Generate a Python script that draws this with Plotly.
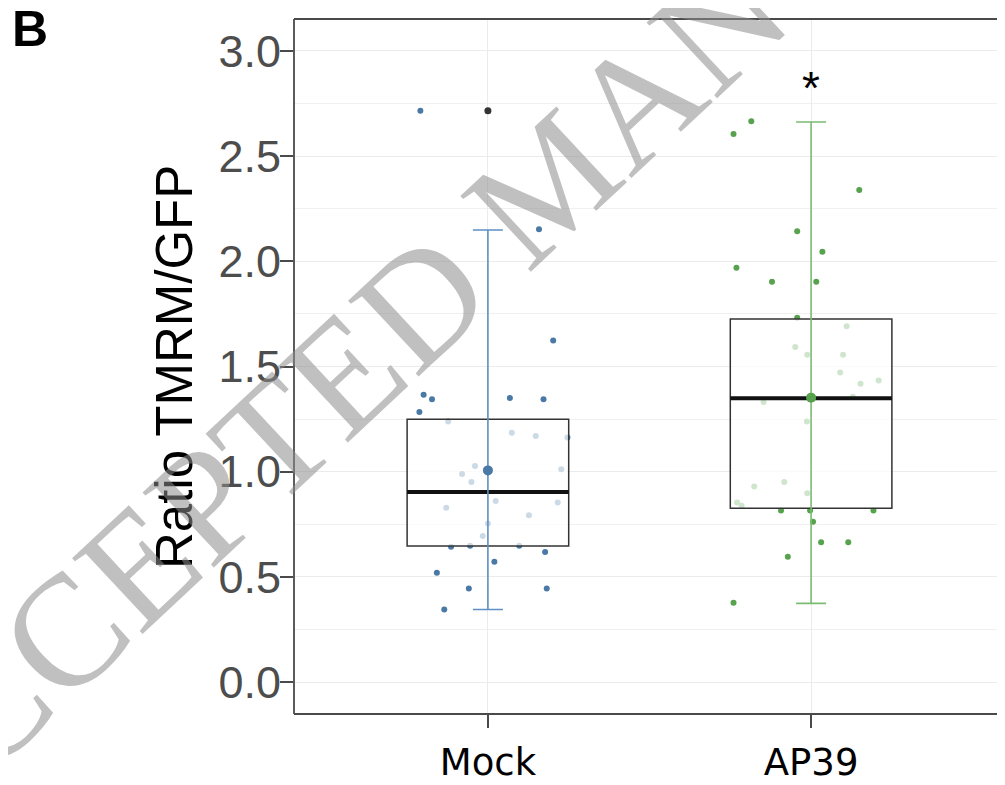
import plotly.graph_objects as go

# ---------------- data ----------------
categories = ["Mock", "AP39"]

mock_values = [2.716, 2.152, 1.624, 1.366, 1.344, 1.350, 1.344, 1.284, 1.239, 1.185,
               1.170, 1.162, 1.027, 0.989, 0.951, 1.011, 0.861, 0.853, 0.829, 0.793,
               0.754, 0.694, 0.643, 0.648, 0.648, 0.618, 0.572, 0.520, 0.445, 0.445,
               0.345]
mock_jitter = [-0.209, 0.158, 0.202, -0.199, -0.173, 0.068, 0.172, -0.212, -0.123, 0.074,
               0.148, 0.246, -0.040, -0.080, -0.051, 0.227, 0.024, 0.216, -0.129, 0.127,
               0.0, -0.016, -0.114, -0.055, 0.097, 0.177, 0.020, -0.158, -0.059, 0.182,
               -0.135]

ap39_values = [2.666, 2.605, 2.339, 2.143, 2.046, 1.970, 1.903, 1.903, 1.732, 1.691,
               1.593, 1.556, 1.556, 1.472, 1.418, 1.434, 1.331, 1.356, 1.238, 0.929,
               0.951, 0.897, 0.853, 0.838, 0.815, 0.816, 0.815, 0.762, 0.664, 0.664,
               0.596, 0.377]
ap39_jitter = [-0.185, -0.240, 0.149, -0.043, 0.035, -0.231, -0.121, 0.016, -0.043, 0.110,
               -0.049, -0.012, 0.099, 0.090, 0.153, 0.209, -0.147, 0.129, -0.013, -0.176,
               -0.083, -0.012, -0.229, -0.215, -0.093, -0.003, 0.193, 0.006, 0.031, 0.115,
               -0.072, -0.240]

q1 = [0.647, 0.826]
median = [0.903, 1.349]
q3 = [1.249, 1.726]
whisker_low = [0.345, 0.374]
whisker_high = [2.149, 2.662]
means = [1.006, 1.352]
outlier_values = [2.716]          # belongs to Mock
outlier_group = [0]

y_tick_values = [0.0, 0.5, 1.0, 1.5, 2.0, 2.5, 3.0]
y_tick_labels = ["0.0", "0.5", "1.0", "1.5", "2.0", "2.5", "3.0"]
y_minor_values = [0.25, 0.75, 1.25, 1.75, 2.25, 2.75]
y_title = "Ratio TMRM/GFP"
panel_label = "B"
sig_label = "*"
sig_group = 1
sig_y = 2.825
watermark = "ACCEPTED MANUSCRIPT"

# ---------------- styles ----------------
point_colors = ["#4a79a6", "#56a24d"]
whisker_colors = ["#5f90c3", "#7bbb72"]
box_width = 0.5
axis_color = "#4a4a4a"
grid_color = "#ebebeb"

# the page body has a default 8px margin; size the figure so that it fills
# the 1005x785 window exactly
BODY = 8
W, H = 1005 - BODY, 785 - BODY
ML, MR, MT, MB = 294 - BODY, 0, 19 - BODY, 71
PW, PH = W - ML - MR, H - MT - MB


def px_to_paper(px, py):
    """window pixel -> paper coordinates"""
    return (px - BODY - ML) / PW, (H - MB - (py - BODY)) / PH


groups = [(mock_values, mock_jitter), (ap39_values, ap39_jitter)]

fig = go.Figure()

# jittered points (bottom layer)
for i, (vals, jit) in enumerate(groups):
    fig.add_trace(go.Scatter(
        x=[i + j for j in jit], y=vals, mode="markers",
        marker=dict(size=6, color=point_colors[i]),
        hoverinfo="skip", zorder=0))

# boxes with semi-transparent white fill
fig.add_trace(go.Box(
    x=list(range(len(categories))), q1=q1, median=median, q3=q3,
    lowerfence=q1, upperfence=q3, width=box_width, whiskerwidth=0,
    line=dict(color="#333333", width=1.5),
    fillcolor="rgba(255,255,255,0.72)", boxpoints=False,
    hoverinfo="skip", zorder=1))

# thick median lines
mx, my = [], []
for i, m in enumerate(median):
    mx += [i - box_width / 2, i + box_width / 2, None]
    my += [m, m, None]
fig.add_trace(go.Scatter(x=mx, y=my, mode="lines",
                         line=dict(color="#111111", width=4),
                         hoverinfo="skip", zorder=1))

# coloured whiskers + mean
for i in range(len(categories)):
    fig.add_trace(go.Scatter(
        x=[i], y=[means[i]], mode="markers",
        marker=dict(size=10, color=point_colors[i]),
        error_y=dict(type="data", symmetric=False,
                     array=[whisker_high[i] - means[i]],
                     arrayminus=[means[i] - whisker_low[i]],
                     color=whisker_colors[i], thickness=1.6, width=15),
        hoverinfo="skip", zorder=2))

# outlier
fig.add_trace(go.Scatter(
    x=outlier_group, y=outlier_values, mode="markers",
    marker=dict(size=7, color="#333333"), hoverinfo="skip", zorder=2))

annotations = []
bx, by = px_to_paper(10, 29)
annotations.append(dict(text=f"<b>{panel_label}</b>", x=bx, y=by, xref="paper", yref="paper",
                        xanchor="left", yanchor="middle", showarrow=False,
                        font=dict(family="Liberation Sans", size=50, color="black")))
tx, ty = px_to_paper(175, 367)
annotations.append(dict(text=y_title, x=tx, y=ty, xref="paper", yref="paper",
                        xanchor="center", yanchor="middle", textangle=-90, showarrow=False,
                        font=dict(family="Liberation Sans", size=51, color="black")))
annotations.append(dict(text=sig_label, x=sig_group, y=sig_y, xref="x", yref="y",
                        xanchor="center", yanchor="middle", showarrow=False,
                        font=dict(family="Liberation Sans", size=46, color="black")))
wx, wy = px_to_paper(550, 180)
annotations.append(dict(text=watermark, x=wx, y=wy, xref="paper", yref="paper",
                        xanchor="center", yanchor="middle", textangle=-43, showarrow=False,
                        font=dict(family="Liberation Serif", size=158,
                                  color="rgba(140,140,140,0.55)")))

frame = dict(color=axis_color, width=1.8)
shapes = [
    dict(type="line", xref="paper", yref="paper", x0=0, x1=1, y0=1, y1=1, line=frame, layer="above"),
    dict(type="line", xref="paper", yref="paper", x0=0, x1=0, y0=0, y1=1, line=frame, layer="above"),
    dict(type="line", xref="paper", yref="paper", x0=0, x1=1, y0=0, y1=0, line=frame, layer="above"),
]

fig.update_layout(
    width=W, height=H,
    margin=dict(l=ML, r=MR, t=MT, b=MB, pad=0, autoexpand=False),
    plot_bgcolor="white", paper_bgcolor="white",
    showlegend=False,
    annotations=annotations,
    shapes=shapes,
    xaxis=dict(range=[-0.6, 1.6], tickmode="array", automargin=False,
               tickvals=list(range(len(categories))), ticktext=categories,
               ticks="outside", ticklen=13, tickwidth=1.5, tickcolor=axis_color,
               ticklabelstandoff=3,
               showline=False,
               showgrid=True, gridcolor=grid_color, gridwidth=1, zeroline=False,
               tickfont=dict(family="DejaVu Sans", size=37, color="black")),
    yaxis=dict(range=[-0.152, 3.152], tickmode="array", automargin=False,
               tickvals=y_tick_values, ticktext=y_tick_labels,
               ticks="outside", ticklen=13, tickwidth=1.5, tickcolor=axis_color,
               ticklabelstandoff=-10,
               showline=False,
               showgrid=True, gridcolor=grid_color, gridwidth=1.2, zeroline=False,
               minor=dict(tickmode="array", tickvals=y_minor_values, showgrid=True,
                          gridcolor="#f0f0f0", gridwidth=1, ticks=""),
               tickfont=dict(family="Liberation Sans", size=45, color="#4d4d4d")),
)

fig.write_html("out.html")
